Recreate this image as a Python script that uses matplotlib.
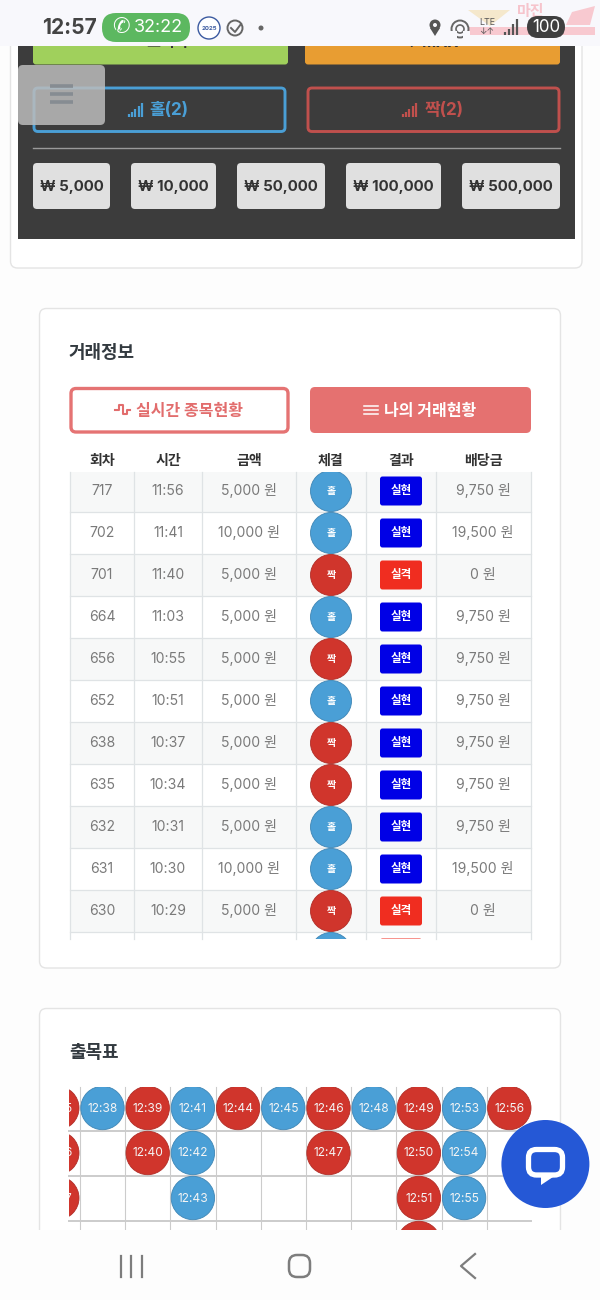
import matplotlib
matplotlib.use("Agg")
import matplotlib.pyplot as plt
from matplotlib.patches import Circle, FancyBboxPatch, Rectangle, Polygon

plt.rcParams['font.family'] = ['Inter', 'Noto Sans CJK KR', 'DejaVu Sans']

# trade table
rounds = ['717', '702', '701', '664', '656', '652', '638', '635', '632', '631', '630', '']
times = ['11:56', '11:41', '11:40', '11:03', '10:55', '10:51', '10:37', '10:34', '10:31', '10:30', '10:29', '']
amounts = ['5,000 원', '10,000 원', '5,000 원', '5,000 원', '5,000 원', '5,000 원', '5,000 원', '5,000 원', '5,000 원', '10,000 원', '5,000 원', '']
picks = ['홀', '홀', '짝', '홀', '짝', '홀', '짝', '짝', '홀', '홀', '짝', '홀']
results = ['실현', '실현', '실격', '실현', '실현', '실현', '실현', '실현', '실현', '실현', '실격', '실격']
payouts = ['9,750 원', '19,500 원', '0 원', '9,750 원', '9,750 원', '9,750 원', '9,750 원', '9,750 원', '9,750 원', '19,500 원', '0 원', '']
headers = ['회차', '시간', '금액', '체결', '결과', '배당금']
chips = ['₩ 5,000', '₩ 10,000', '₩ 50,000', '₩ 100,000', '₩ 500,000']

# appearance board, one list per column
board_sides = ['짝', '홀', '짝', '홀', '짝', '홀', '짝', '홀', '짝', '홀', '짝']
board_times = [
    ['12:35', '12:36', '12:37'],
    ['12:38'],
    ['12:39', '12:40'],
    ['12:41', '12:42', '12:43'],
    ['12:44'],
    ['12:45'],
    ['12:46', '12:47'],
    ['12:48'],
    ['12:49', '12:50', '12:51', '12:52'],
    ['12:53', '12:54', '12:55'],
    ['12:56'],
]

BLUE = '#4a9fd6'
RED = '#d0352c'
side_color = {'홀': BLUE, '짝': RED}
side_edge = {'홀': '#3f86b5', '짝': '#b02e28'}

fig = plt.figure(figsize=(6, 13), dpi=100, facecolor='#fdfdfd')
ax = fig.add_axes([0, 0, 1, 1])
ax.set_xlim(0, 600)
ax.set_ylim(1300, 0)
ax.axis('off')


def box(x0, y0, x1, y1, r=4, fc='none', ec='none', lw=0, z=2, alpha=None):
    p = FancyBboxPatch((x0, y0), x1 - x0, y1 - y0, boxstyle='round,pad=0,rounding_size=%s' % r,
                       fc=fc, ec=ec, lw=lw, zorder=z, alpha=alpha)
    ax.add_patch(p)
    return p


def label(x, y, s, px=14, color='#333333', weight='normal', z=5, ha='center', clip=None):
    # text sits a bit high with va=center, so nudge it down
    t = ax.text(x, y + 1.5, s, fontsize=px * 0.72, color=color, fontweight=weight, ha=ha, va='center', zorder=z)
    if clip is not None:
        t.set_clip_on(True)
        t.set_clip_path(clip)
    return t


def bars_icon(x, y, color):
    # little signal icon inside the buttons
    for i, h in enumerate([3, 5, 8, 11, 14]):
        ax.plot([x + i * 3.2, x + i * 3.2], [y + 7, y + 7 - h], color=color, lw=1.6, zorder=5, solid_capstyle='butt')


# top card and dark panel
box(10.5, -20, 582, 268, r=7, fc='#ffffff', ec='#e4e4e4', lw=1)
ax.add_patch(Rectangle((18, 30), 557, 209, fc='#3c3c3c', zorder=2))
box(33, 30, 288, 64.5, r=3, fc='#a0d05c', z=3)
box(305, 30, 560, 64.5, r=3, fc='#e89d32', z=3)
label(160, 41.5, '⟳ 초기화', 15, '#333333', 'bold')
label(432, 41.5, '↑ MAX', 15, '#333333', 'bold')
box(34, 88, 285, 131.5, r=4, ec='#4a9fd6', lw=2.1, z=3)
box(308, 88, 559, 131.5, r=4, ec='#c0504d', lw=2.1, z=3)
bars_icon(129, 110, '#4a9fd6')
label(169, 109, '홀(2)', 17, '#4a9fd6', 'bold')
bars_icon(403, 110, '#c0504d')
label(444, 109, '짝(2)', 17, '#c0504d', 'bold')
ax.plot([33, 560], [148, 148], color='#9a9a9a', lw=1, zorder=3)
chip_x0 = [33, 131, 237, 346, 462]
chip_x1 = [110, 216, 325, 441, 560]
for s, a, b in zip(chips, chip_x0, chip_x1):
    box(a, 163, b, 209, r=4, fc='#e0e0e0', z=3)
    label((a + b) / 2, 186, s, 15, '#333333', 'bold')

# floating menu
box(18, 65, 105, 125, r=5, fc='#bcbcbc', z=6, alpha=0.85)
for y in [86, 94, 102]:
    ax.plot([50, 73], [y, y], color='#868c92', lw=2.6, zorder=7, solid_capstyle='butt')

# trade card
box(39.5, 308.5, 560.5, 968, r=7, fc='#ffffff', ec='#e4e4e4', lw=1)
label(69, 352, '거래정보', 18, '#333a40', 'bold', ha='left')
box(71, 388.5, 288, 432, r=5, fc='#ffffff', ec='#e57373', lw=2.4, z=3)
label(190, 410, '실시간 종목현황', 16, '#e26d6d', 'bold')
ax.plot([115, 119, 119, 123, 123, 127, 127, 130], [410, 410, 405, 405, 414, 414, 410, 410],
        color='#e26d6d', lw=1.5, zorder=5)
box(310, 387, 531, 433, r=5, fc='#e57170', z=3)
label(430, 410, '나의 거래현황', 16, '#ffffff', 'bold')
for y in [406, 410, 414]:
    ax.plot([364, 378], [y, y], color='#ffffff', lw=1.1, zorder=5)

col_edges = [70, 134, 202, 296, 366, 436, 531]
col_mid = [102, 168, 249, 331, 401, 483]
row_top = 472
row_h = 42
table_clip = Rectangle((69, 472), 463, 467, transform=ax.transData)

for c, h in zip(col_mid, headers):
    label(c, 459.5, h, 14, '#333333', 'bold')

for i in range(len(rounds)):
    y0 = row_top + i * row_h
    yc = y0 + row_h / 2 - 2
    if i % 2 == 0:
        r = Rectangle((70, y0 - 2), 461, row_h, fc='#f7f8f8', zorder=2.5)
        ax.add_patch(r)
        r.set_clip_path(table_clip)
    if i > 0:
        ax.plot([70, 531], [y0 - 2, y0 - 2], color='#dfe3e5', lw=0.9, zorder=3)
    for c, s in zip(col_mid, [rounds[i], times[i], amounts[i]]):
        label(c, yc - 1.5, s, 14, '#7a7a7a', clip=table_clip)
    label(col_mid[5], yc - 1.5, payouts[i], 14, '#7a7a7a', clip=table_clip)
    dot = Circle((col_mid[3], yc), 20.5, fc=side_color[picks[i]], ec=side_edge[picks[i]], lw=0.6, zorder=4)
    ax.add_patch(dot)
    dot.set_clip_path(table_clip)
    label(col_mid[3], yc - 1.5, picks[i], 10, '#ffffff', 'bold', clip=table_clip)
    badge = box(380, yc - 14.5, 422, yc + 14.5, r=2.5, fc='#0000e6' if results[i] == '실현' else '#f02d20', z=4)
    badge.set_clip_path(table_clip)
    label(401, yc - 2, results[i], 11.5, '#ffffff', 'bold', clip=table_clip)

for x in col_edges:
    ax.plot([x, x], [472, 939], color='#dfe3e5', lw=0.9, zorder=3)

# appearance board card
box(39.5, 1008.5, 560.5, 1400, r=7, fc='#ffffff', ec='#e4e4e4', lw=1)
label(69, 1052, '출목표', 18, '#333a40', 'bold', ha='left')

board_clip = Rectangle((69, 1087), 463, 143, transform=ax.transData)
step_x = 45.2
step_y = 45
first_x = 57.3
first_y = 1108

for i in range(len(board_times)):
    x = first_x + i * step_x
    if i > 0:
        ax.plot([x - step_x / 2, x - step_x / 2], [1087, 1230], color='#cccccc', lw=0.8, zorder=3)
for j in range(3):
    y = first_y + j * step_y + step_y / 2 + 0.5
    ax.plot([69, 531], [y, y], color='#cccccc', lw=1.4, zorder=3)

for i, col in enumerate(board_times):
    x = first_x + i * step_x
    for j, s in enumerate(col):
        y = first_y + j * step_y
        dot = Circle((x, y), 21.7, fc=side_color[board_sides[i]], ec=side_edge[board_sides[i]], lw=0.6, zorder=4)
        ax.add_patch(dot)
        dot.set_clip_path(board_clip)
        label(x, y - 1, s, 12, '#f4f4f4', clip=board_clip)

# chat button
ax.add_patch(Circle((545.4, 1164), 44, fc='#2558d6', ec='none', zorder=8))
box(528.5, 1149.5, 562.5, 1175, r=8, fc='#2558d6', ec='#ffffff', lw=3.8, z=9)
ax.add_patch(Polygon([[541, 1175], [541, 1185], [553, 1177]], closed=True, fc='#ffffff', ec='none', zorder=10))

# navigation bar
ax.add_patch(Rectangle((0, 1230), 600, 70, fc='#fdfdfd', zorder=7))
for x in [121, 131, 142]:
    ax.plot([x, x], [1256, 1277], color='#7d7d7d', lw=1.6, zorder=8)
box(289, 1255, 310, 1277, r=8, ec='#7d7d7d', lw=1.8, z=8)
ax.plot([475, 461, 475], [1254, 1266, 1278], color='#7d7d7d', lw=1.6, zorder=8)

# status bar
ax.add_patch(Rectangle((0, 0), 600, 46, fc='#f8f8fc', zorder=10))
label(69, 26, '12:57', 21, '#444444', 'bold', z=11)
box(102, 13, 190, 42, r=14, fc='#5cb860', z=11)
label(121, 25, '✆', 21, '#ffffff', z=12)
label(158, 26, '32:22', 18, '#ffffff', z=12)
ax.add_patch(Circle((209, 28), 11, fc='#ffffff', ec='#3b5aa0', lw=1, zorder=11))
label(209, 26.5, '2025', 6, '#3b5aa0', 'bold', z=12)
ax.add_patch(Circle((235, 28), 7.5, fc='none', ec='#666666', lw=1.4, zorder=11))
ax.plot([231, 235, 241], [28, 32, 24], color='#666666', lw=1.4, zorder=12)
ax.add_patch(Circle((261, 28), 2.5, fc='#666666', zorder=11))

# watermark
ax.add_patch(Rectangle((468, 27), 127, 8, fc='#f8c9d0', zorder=10.5))
label(531, 10.5, '마진', 15, '#f6c4cc', 'bold', z=10.5)
ax.add_patch(Polygon([[468, 10], [510, 10], [490, 26]], closed=True, fc='#f5e8cc', zorder=10.5))
ax.add_patch(Polygon([[566, 25], [572, 12], [595, 6], [590, 25]], closed=True, fc='#f8c9d0', zorder=10.5))

ax.add_patch(Circle((435, 25), 5.5, fc='#555555', zorder=11))
ax.add_patch(Polygon([[430, 28], [440, 28], [435, 36]], closed=True, fc='#555555', zorder=11))
ax.add_patch(Circle((435, 25), 2, fc='#f8f8fc', zorder=12))
ax.add_patch(Circle((460, 29), 8.5, fc='none', ec='#666666', lw=1.4, zorder=11))
ax.add_patch(Circle((460, 29), 4, fc='none', ec='#666666', lw=1.2, zorder=11))
ax.add_patch(Rectangle((450, 31), 7, 7, fc='#f8f8fc', zorder=11.5))
ax.add_patch(Rectangle((463, 31), 7, 7, fc='#f8f8fc', zorder=11.5))
label(487, 21, 'LTE', 9, '#555555', z=11)
label(487, 30, '↓↑', 9, '#555555', z=11)
for x, h in zip([505, 509, 513, 517], [3, 6, 11, 16]):
    ax.plot([x, x], [35, 35 - h], color='#555555', lw=1.6, zorder=11, solid_capstyle='butt')
box(527, 16, 565, 38, r=11, fc='#3f3f3f', z=11)
label(546, 26, '100', 17, '#ffffff', z=12)

fig.savefig('out.png', dpi=100, facecolor=fig.get_facecolor())
